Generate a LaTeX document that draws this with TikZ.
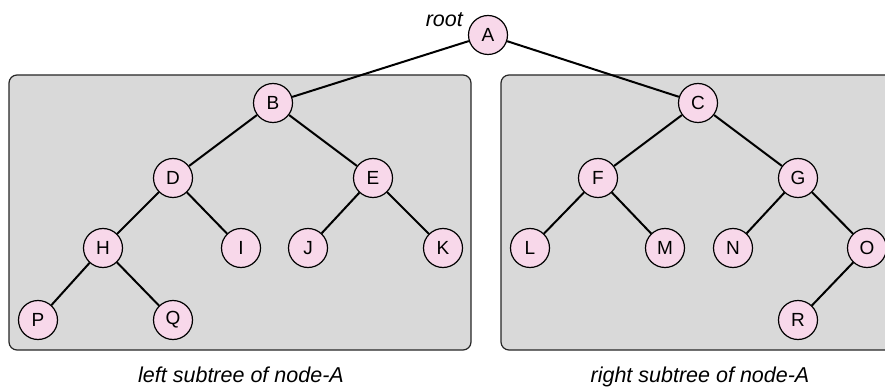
\documentclass[tikz,border=0pt]{standalone}
\usepackage{fontspec}
\setmainfont{Liberation Sans}
\begin{document}
\begin{tikzpicture}[x=1pt,y=-1pt,
  tn/.style={circle,draw=black,line width=1.2pt,fill=pinkfill,minimum size=39pt,inner sep=0pt,font=\fontsize{19}{22}\selectfont},
  edge/.style={line width=2pt,black},
  panel/.style={draw=black!85,line width=1.2pt,fill=panelgray,rounded corners=8pt},
  lab/.style={font=\fontsize{21.5}{25}\selectfont\itshape,inner sep=0pt}]
\definecolor{pinkfill}{RGB}{248,216,234}
\definecolor{panelgray}{RGB}{217,217,217}
\useasboundingbox (0,0) rectangle (885,387);
\draw[panel] (9,75) rectangle (471,350);
\draw[panel] (501,75) rectangle (910,350);
\node[tn] (A) at (488,35) {A};
\node[tn] (B) at (273,103) {B};
\node[tn] (C) at (698,103) {C};
\node[tn] (D) at (173,178) {D};
\node[tn] (E) at (373,178) {E};
\node[tn] (F) at (598,178) {F};
\node[tn] (G) at (798,178) {G};
\node[tn] (H) at (103,248) {H};
\node[tn] (I) at (241,248) {I};
\node[tn] (J) at (308,248) {J};
\node[tn] (K) at (443,248) {K};
\node[tn] (L) at (530,248) {L};
\node[tn] (M) at (665,248) {M};
\node[tn] (N) at (733,248) {N};
\node[tn] (O) at (867,248) {O};
\node[tn] (P) at (38,320) {P};
\node[tn] (Q) at (173,320) {Q};
\node[tn] (R) at (798,320) {R};
\draw[edge] (A) -- (B);
\draw[edge] (A) -- (C);
\draw[edge] (B) -- (D);
\draw[edge] (B) -- (E);
\draw[edge] (C) -- (F);
\draw[edge] (C) -- (G);
\draw[edge] (D) -- (H);
\draw[edge] (D) -- (I);
\draw[edge] (E) -- (J);
\draw[edge] (E) -- (K);
\draw[edge] (F) -- (L);
\draw[edge] (F) -- (M);
\draw[edge] (G) -- (N);
\draw[edge] (G) -- (O);
\draw[edge] (H) -- (P);
\draw[edge] (H) -- (Q);
\draw[edge] (O) -- (R);
\node[lab,anchor=base east] (rootlab) at (463,27) {root};
\node[lab,anchor=base] (leftlab) at (241,382) {left subtree of node-A};
\node[lab,anchor=base] (rightlab) at (700,382) {right subtree of node-A};
\end{tikzpicture}
\end{document}
